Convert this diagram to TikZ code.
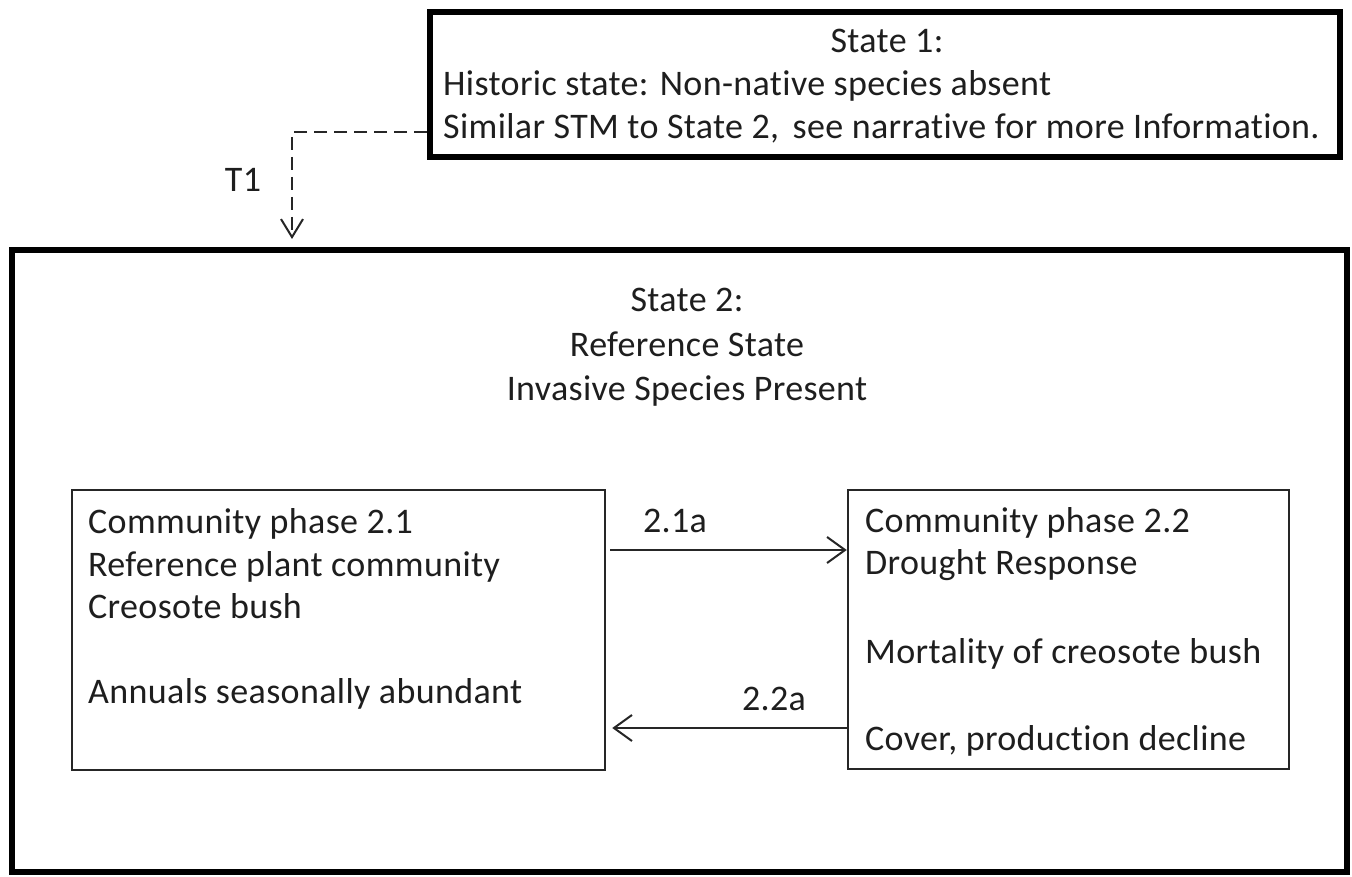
\documentclass[tikz,border=0pt]{standalone}
\usepackage{fontspec}
\setmainfont{Carlito}[LetterSpace=1.0,Ligatures=NoCommon]
\usetikzlibrary{arrows.meta,calc}
\definecolor{ink}{HTML}{1E1E1E}
\tikzset{
  statebox/.style={draw=black,line width=6pt,rectangle,inner sep=0pt},
  phasebox/.style={draw=black!85,line width=2.5pt,rectangle,inner sep=0pt},
  txt/.style={font=\fontsize{36}{43}\selectfont,text=ink,inner sep=0pt},
  txtl/.style={txt,anchor=base west},
  txtc/.style={txt,anchor=base},
  trans/.style={draw=black!85,line width=2pt,-{Straight Barb[length=18pt,width=26pt,line width=2pt]}},
  dashtrans/.style={draw=black!85,line width=2pt,dash pattern=on 13pt off 7pt,-{Straight Barb[length=18pt,width=22pt,line width=2pt]}}
}
\begin{document}
\begin{tikzpicture}[x=1pt,y=-1pt]
\useasboundingbox (0,0) rectangle (1352,877);
\fill[white] (0,0) rectangle (1352,877);
% State boxes
\node[statebox,minimum width=910pt,minimum height=145pt] (s1) at (885,84.5) {};
\node[statebox,minimum width=1335pt,minimum height=622pt] (s2) at (679.5,561) {};
% Phase boxes
\node[phasebox,minimum width=533pt,minimum height=280pt] (p21) at (338.5,630) {};
\node[phasebox,minimum width=441pt,minimum height=279pt] (p22) at (1068.5,629.5) {};
% State 1 text
\node[txtc] (s1a) at (887,53) {State 1:};
\node[txtl] (s1b) at (443,96) {Historic state: Non-native species absent};
\node[txtl] (s1c) at (443,139) {Similar STM to State 2,\hspace{5pt} see narrative for more Information.};
% State 2 text
\node[txtc] (s2a) at (687,312) {State 2:};
\node[txtc] (s2b) at (687,356) {Reference State};
\node[txtc] (s2c) at (687,400) {Invasive Species Present};
% Phase 2.1 text
\node[txtl] (p21a) at (88,533) {Community phase 2.1};
\node[txtl] (p21b) at (88,576) {Reference plant community};
\node[txtl] (p21c) at (88,618) {Creosote bush};
\node[txtl] (p21d) at (88,703) {Annuals seasonally abundant};
% Phase 2.2 text
\node[txtl] (p22a) at (865,532) {Community phase 2.2};
\node[txtl] (p22b) at (865,574) {Drought Response};
\node[txtl] (p22c) at (865,663) {Mortality of creosote bush};
\node[txtl] (p22d) at (865,750) {Cover, production decline};
% T1 transition
\coordinate (t1s) at (s1.west |- 0,132);
\coordinate (t1c) at (292,132);
\coordinate (t1e) at (292,239);
\draw[dashtrans] (t1s) -- (t1c) -- (t1e);
\node[txtc] (t1) at (243,192) {T1};
% Phase transitions
\coordinate (a1) at (0,550);
\coordinate (a2) at (0,728);
\draw[trans] ([xshift=4pt]p21.east |- a1) -- (p22.west |- a1);
\draw[trans] (p22.west |- a2) -- ([xshift=6pt]p21.east |- a2);
\node[txtc] (l21) at (675,532) {2.1a};
\node[txtc] (l22) at (774,710) {2.2a};
\end{tikzpicture}
\end{document}
